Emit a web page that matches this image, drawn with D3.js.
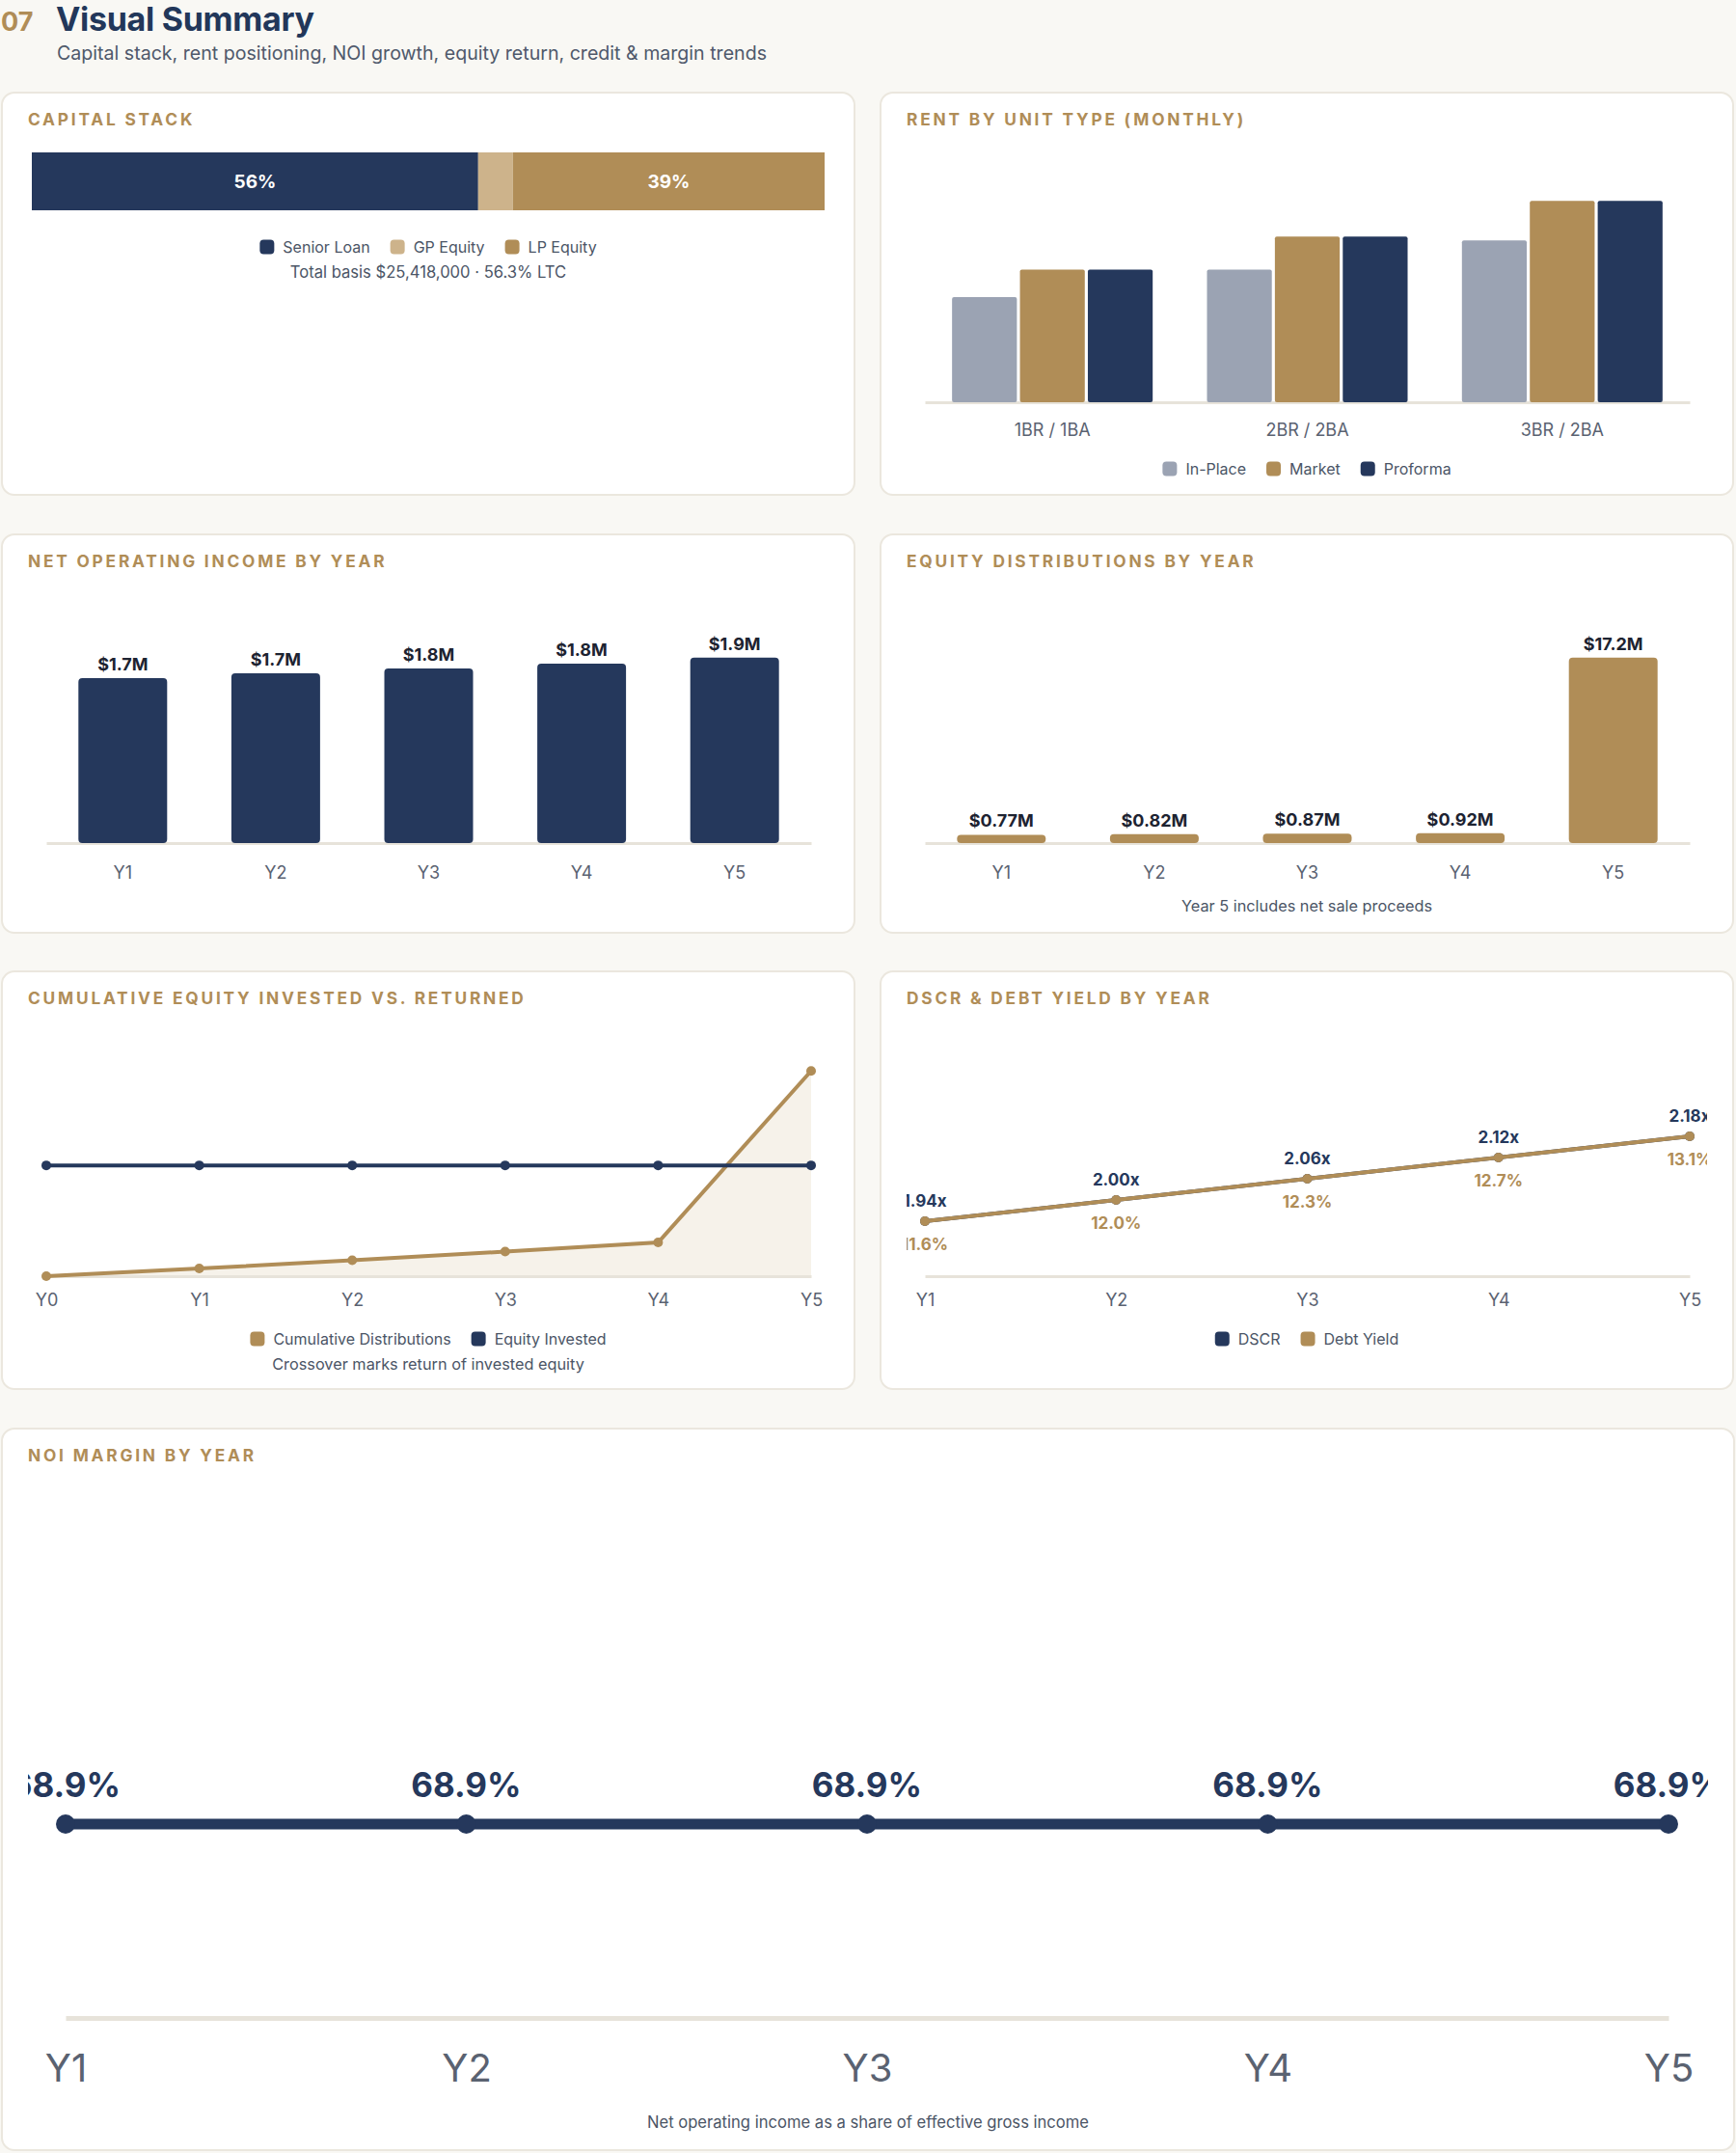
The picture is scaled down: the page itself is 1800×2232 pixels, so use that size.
<!DOCTYPE html>
<html><head><meta charset="utf-8">
<script src="https://cdn.jsdelivr.net/npm/d3@7"></script>
<style>
body{margin:0;background:#f9f8f4;}
#page{position:relative;width:1800px;height:2232px;overflow:hidden;background:#f9f8f4;font-family:Inter,"Noto Sans",sans-serif;}
.card{position:absolute;background:#fff;border:2px solid #ebe7de;border-radius:14px;box-sizing:border-box;}
.card > svg{position:absolute;left:-2px;top:-2px;overflow:visible;}
.card svg svg{overflow:hidden;}
</style></head><body><div id="page"></div>
<script>
// ---------- DATA ----------
const capitalLabels = ["Senior Loan", "GP Equity", "LP Equity"];
const capitalValues = [14310334, 1110767, 9996899];
const capitalNote = "Total basis $25,418,000 · 56.3% LTC";

const unitTypes = ["1BR / 1BA", "2BR / 2BA", "3BR / 2BA"];
const rentSeries = ["In-Place", "Market", "Proforma"];
const rentInPlace = [1300, 1640, 2000];
const rentMarket = [1640, 2050, 2490];
const rentProforma = [1640, 2050, 2490];

const years = ["Y1", "Y2", "Y3", "Y4", "Y5"];
const noiValues = [1.69, 1.74, 1.79, 1.84, 1.90];          // $M
const noiLabels = ["$1.7M", "$1.7M", "$1.8M", "$1.8M", "$1.9M"];

const distValues = [0.77, 0.82, 0.87, 0.92, 17.2];         // $M
const distLabels = ["$0.77M", "$0.82M", "$0.87M", "$0.92M", "$17.2M"];

const cumYears = ["Y0", "Y1", "Y2", "Y3", "Y4", "Y5"];
const cumDistributions = [0, 0.77, 1.59, 2.46, 3.38, 20.58]; // $M
const equityInvested = [11.11, 11.11, 11.11, 11.11, 11.11, 11.11];

const dscrValues = [1.94, 2.00, 2.06, 2.12, 2.18];
const debtYieldValues = [11.62, 11.98, 12.34, 12.70, 13.06];

const marginValues = [68.9, 68.9, 68.9, 68.9, 68.9];

// ---------- STYLE ----------
const FONT = 'Inter, "Noto Sans", sans-serif';
const NAVY = "#25385c", GOLD = "#b08d57", TAN = "#cdb38b", SLATE = "#9ba3b3";
const AXIS = "#e7e3da", TICK = "#5a6271", LEG = "#4b5566", DARK = "#1d2331";

const page = d3.select("#page");

// header
const hdr = page.append("svg").attr("width", 1800).attr("height", 90).style("position", "absolute").style("left", 0).style("top", 0);
hdr.append("text").attr("x", 1).attr("y", 32).attr("font-family", FONT).attr("font-weight", 700).attr("font-size", 27).attr("fill", GOLD).text("07");
hdr.append("text").attr("x", 58).attr("y", 32).attr("font-family", FONT).attr("font-weight", 700).attr("font-size", 34).attr("fill", "#22375a").attr("letter-spacing", -0.3).text("Visual Summary");
hdr.append("text").attr("x", 59).attr("y", 62).attr("font-family", FONT).attr("font-size", 19.6).attr("fill", "#4f596b").text("Capital stack, rent positioning, NOI growth, equity return, credit & margin trends");

function makeCard(x, y, w, h, title) {
  const div = page.append("div").attr("class", "card")
    .style("left", x + "px").style("top", y + "px").style("width", w + "px").style("height", h + "px");
  const svg = div.append("svg").attr("width", w).attr("height", h).attr("font-family", FONT);
  svg.append("text").attr("x", 28).attr("y", 35).attr("font-size", 17.3).attr("font-weight", 700)
    .attr("letter-spacing", 2.8).attr("fill", GOLD).text(title);
  const inner = svg.append("svg").attr("x", 28).attr("y", 0).attr("width", w - 56).attr("height", h)
    .attr("overflow", "hidden");
  const g = inner.append("g").attr("transform", "translate(-28,0)");
  return { svg, g, w, h };
}

function legend(svg, items, cx, cy) {
  const lg = svg.append("g");
  let xo = 0;
  items.forEach((it, i) => {
    lg.append("rect").attr("x", xo).attr("y", cy - 7.5).attr("width", 15).attr("height", 15).attr("rx", 4).attr("fill", it.color);
    const t = lg.append("text").attr("x", xo + 24).attr("y", cy + 6).attr("font-size", 16).attr("fill", LEG).text(it.label);
    xo += 24 + t.node().getComputedTextLength() + 21;
  });
  xo -= 21;
  lg.attr("transform", `translate(${cx - xo / 2},0)`);
}

function note(svg, text, cx, cy, fs) {
  svg.append("text").attr("x", cx).attr("y", cy + 6).attr("text-anchor", "middle").attr("font-size", fs || 16.3).attr("fill", LEG).text(text);
}

function bottomAxis(g, scale, base, labelY, fs) {
  const ax = g.append("g").attr("transform", `translate(0,${base})`)
    .call(d3.axisBottom(scale).tickSize(0).tickSizeOuter(0));
  ax.attr("font-family", FONT).attr("font-size", fs);
  ax.select(".domain").attr("stroke", AXIS).attr("stroke-width", 3);
  ax.selectAll(".tick text").attr("y", labelY).attr("dy", 0).attr("fill", TICK);
  return ax;
}

// ---------- CAPITAL STACK ----------
{
  const c = makeCard(1, 95, 886, 419, "CAPITAL STACK");
  const total = d3.sum(capitalValues);
  const x = d3.scaleLinear().domain([0, total]).range([32, 854]);
  const starts = d3.cumsum([0].concat(capitalValues)).slice(0, capitalValues.length);
  const cols = [NAVY, TAN, GOLD];
  c.g.selectAll("rect.seg").data(capitalValues).join("rect")
    .attr("x", (d, i) => x(starts[i])).attr("y", 63).attr("width", d => x(d) - x(0)).attr("height", 60)
    .attr("fill", (d, i) => cols[i]);
  c.g.selectAll("text.seg").data(capitalValues).join("text")
    .filter(d => d / total > 0.1)
    .attr("x", d => x(starts[capitalValues.indexOf(d)] + d / 2)).attr("y", 100)
    .attr("text-anchor", "middle").attr("font-size", 19).attr("font-weight", 700).attr("fill", "#fff")
    .text(d => Math.round(d / total * 100) + "%");
  legend(c.svg, capitalLabels.map((l, i) => ({ label: l, color: cols[i] })), 443, 161);
  note(c.svg, capitalNote, 443, 187, 16.6);
}

// ---------- RENT BY UNIT TYPE ----------
{
  const c = makeCard(912, 95, 886, 419, "RENT BY UNIT TYPE (MONTHLY)");
  const base = 322;
  const x0 = d3.scaleBand().domain(unitTypes).range([47, 840]).paddingInner(0.213).paddingOuter(0.1065);
  const x1 = d3.scaleBand().domain(rentSeries).range([0, x0.bandwidth()]).paddingInner(0.045);
  const maxV = d3.max(rentMarket.concat(rentProforma, rentInPlace));
  const y = d3.scaleLinear().domain([0, maxV * 1.15]).range([base, 82]);
  bottomAxis(c.g, x0, base, 35, 18);
  const series = [rentInPlace, rentMarket, rentProforma];
  const cols = [SLATE, GOLD, NAVY];
  unitTypes.forEach((u, i) => {
    series.forEach((s, j) => {
      c.g.append("rect").attr("x", x0(u) + x1(rentSeries[j])).attr("y", y(s[i]))
        .attr("width", x1.bandwidth()).attr("height", base - y(s[i])).attr("rx", 2).attr("fill", cols[j]);
    });
  });
  legend(c.svg, rentSeries.map((l, i) => ({ label: l, color: cols[i] })), 443, 391);
}

// ---------- NOI BY YEAR ----------
function yearBars(card, values, labels, color, domainMax) {
  const base = 321;
  const x = d3.scaleBand().domain(years).range([47, 840]).paddingInner(0.42).paddingOuter(0.21);
  const y = d3.scaleLinear().domain([0, domainMax]).range([base, 100]);
  bottomAxis(card.g, x, base, 37, 18);
  card.g.selectAll("rect.bar").data(values).join("rect")
    .attr("x", (d, i) => x(years[i])).attr("y", d => y(d)).attr("width", x.bandwidth())
    .attr("height", d => base - y(d)).attr("rx", 4).attr("fill", color);
  card.g.selectAll("text.val").data(values).join("text")
    .attr("x", (d, i) => x(years[i]) + x.bandwidth() / 2).attr("y", d => y(d) - 8)
    .attr("text-anchor", "middle").attr("font-size", 18).attr("font-weight", 700).attr("fill", DARK)
    .text((d, i) => labels[i]);
}
{
  const c = makeCard(1, 553, 886, 415, "NET OPERATING INCOME BY YEAR");
  yearBars(c, noiValues, noiLabels, NAVY, d3.max(noiValues) * 1.15);
}
{
  const c = makeCard(912, 553, 886, 415, "EQUITY DISTRIBUTIONS BY YEAR");
  yearBars(c, distValues, distLabels, GOLD, d3.max(distValues) * 1.15);
  note(c.svg, "Year 5 includes net sale proceeds", 443, 386);
}

// ---------- CUMULATIVE ----------
{
  const c = makeCard(1, 1006, 886, 435, "CUMULATIVE EQUITY INVESTED VS. RETURNED");
  const base = 317;
  const x = d3.scalePoint().domain(cumYears).range([47, 840]);
  const y = d3.scaleLinear().domain([0, d3.max(cumDistributions) * 1.1]).range([base, 83]);
  c.g.append("path").datum(cumDistributions)
    .attr("d", d3.area().x((d, i) => x(cumYears[i])).y0(base).y1(d => y(d)))
    .attr("fill", "#f6f2ea");
  bottomAxis(c.g, x, base, 31, 18);
  const line = d3.line().x((d, i) => x(cumYears[i])).y(d => y(d));
  [[cumDistributions, GOLD], [equityInvested, NAVY]].forEach(([s, col]) => {
    c.g.append("path").datum(s).attr("d", line).attr("fill", "none").attr("stroke", col).attr("stroke-width", 4);
    c.g.selectAll(null).data(s).join("circle").attr("cx", (d, i) => x(cumYears[i])).attr("cy", d => y(d)).attr("r", 5).attr("fill", col);
  });
  legend(c.svg, [{ label: "Cumulative Distributions", color: GOLD }, { label: "Equity Invested", color: NAVY }], 443, 382);
  note(c.svg, "Crossover marks return of invested equity", 443, 408);
}

// ---------- DSCR & DEBT YIELD ----------
{
  const c = makeCard(912, 1006, 886, 435, "DSCR & DEBT YIELD BY YEAR");
  const base = 317;
  const x = d3.scalePoint().domain(years).range([47, 840]);
  const dMin = d3.min(dscrValues), dMax = d3.max(dscrValues);
  const yD = d3.scaleLinear().domain([dMin * 0.92, dMax * 1.08]).range([base, 108]);
  // debt yield aligned to the DSCR axis (endpoints coincide)
  const yY = d3.scaleLinear().domain(d3.extent(debtYieldValues)).range([yD(dMin), yD(dMax)]);
  bottomAxis(c.g, x, base, 31, 18);
  [[dscrValues, yD, NAVY], [debtYieldValues, yY, GOLD]].forEach(([s, ys, col]) => {
    c.g.append("path").datum(s).attr("d", d3.line().x((d, i) => x(years[i])).y(d => ys(d)))
      .attr("fill", "none").attr("stroke", col).attr("stroke-width", 4);
    c.g.selectAll(null).data(s).join("circle").attr("cx", (d, i) => x(years[i])).attr("cy", d => ys(d)).attr("r", 5).attr("fill", col);
  });
  c.g.selectAll(null).data(dscrValues).join("text")
    .attr("x", (d, i) => x(years[i])).attr("y", d => yD(d) - 15).attr("text-anchor", "middle")
    .attr("font-size", 17).attr("font-weight", 700).attr("fill", NAVY).text(d => d.toFixed(2) + "x");
  c.g.selectAll(null).data(debtYieldValues).join("text")
    .attr("x", (d, i) => x(years[i])).attr("y", d => yY(d) + 30).attr("text-anchor", "middle")
    .attr("font-size", 17).attr("font-weight", 700).attr("fill", GOLD).text(d => d.toFixed(1) + "%");
  legend(c.svg, [{ label: "DSCR", color: NAVY }, { label: "Debt Yield", color: GOLD }], 443, 382);
}

// ---------- NOI MARGIN ----------
{
  const c = makeCard(1, 1480, 1798, 750, "NOI MARGIN BY YEAR");
  const base = 612;
  const x = d3.scalePoint().domain(years).range([67, 1729]);
  const y = d3.scaleLinear().domain([d3.min(marginValues) * 0.92, d3.max(marginValues) * 1.08]).range([base, 210]);
  const ax = bottomAxis(c.g, x, base, 66, 40);
  ax.select(".domain").attr("stroke-width", 5);
  c.g.append("path").datum(marginValues).attr("d", d3.line().x((d, i) => x(years[i])).y(d => y(d)))
    .attr("fill", "none").attr("stroke", NAVY).attr("stroke-width", 11);
  c.g.selectAll(null).data(marginValues).join("circle").attr("cx", (d, i) => x(years[i])).attr("cy", d => y(d)).attr("r", 10).attr("fill", NAVY);
  c.g.selectAll(null).data(marginValues).join("text")
    .attr("x", (d, i) => x(years[i])).attr("y", d => y(d) - 28).attr("text-anchor", "middle")
    .attr("font-size", 35).attr("font-weight", 700).attr("fill", NAVY).text(d => d.toFixed(1) + "%");
  note(c.svg, "Net operating income as a share of effective gross income", 899, 720, 16.6);
}
</script></body></html>
